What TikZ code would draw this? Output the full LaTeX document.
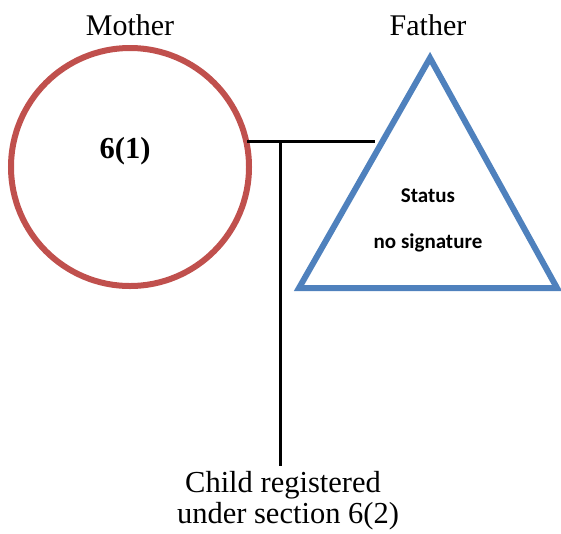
\documentclass[tikz,border=0pt]{standalone}
\usepackage{fontspec}
\setmainfont{Liberation Serif}
\newfontfamily\statusfont{Carlito}
\usetikzlibrary{positioning}

\definecolor{motherred}{HTML}{C0504D}
\definecolor{fatherblue}{HTML}{4F81BD}

\begin{document}
\begin{tikzpicture}[x=1pt,y=-1pt,
 lbl/.style={font=\fontsize{30}{34}\selectfont,inner sep=0pt},
 stat/.style={font=\statusfont\bfseries\fontsize{21}{24}\selectfont,inner sep=0pt},
 parent/.style={line width=6pt},
 line/.style={line width=3pt}]
\useasboundingbox (0,0) rectangle (561,533);
% parents
\draw[parent,motherred] (130,167) circle[radius=119];
\draw[parent,fatherblue,line join=miter] (430,58) -- (557,288) -- (299,288) -- cycle;
\node[lbl] (mother) at (130,25) {Mother};
\node[lbl] (father) at (428,25) {Father};
\node[lbl,font=\bfseries\fontsize{30.5}{34}\selectfont] (sec) at (125,151) {6(1)};
\node[stat] (status) at (428,196) {Status};
\node[stat] (nosig) at (428,243) {no signature};
% link
\coordinate (la) at (247,141);
\coordinate (lb) at (375,141);
\coordinate (drop) at (280,141);
\coordinate (foot) at (280,466);
\draw[line] (la) -- (lb);
\draw[line] (drop) -- (foot);
\node[lbl,anchor=base,font=\fontsize{30.5}{34}\selectfont] (child) at (283,492) {Child registered};
\node[lbl,anchor=base,font=\fontsize{30.5}{34}\selectfont] (childb) at (288,523) {under section 6(2)};
\end{tikzpicture}
\end{document}
